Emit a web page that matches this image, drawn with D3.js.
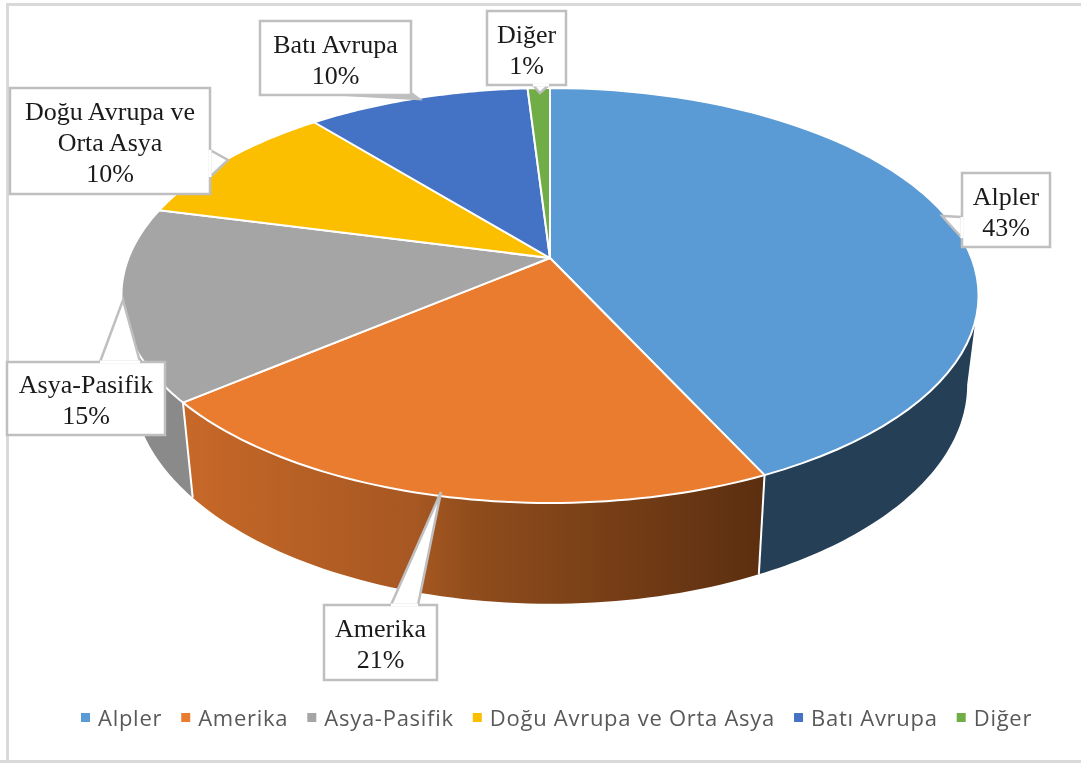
<!DOCTYPE html>
<html><head><meta charset="utf-8">
<script src="https://cdn.jsdelivr.net/npm/d3@7"></script>
<style>html,body{margin:0;padding:0;background:#fff}svg{display:block;filter:blur(0.4px)}</style>
</head><body><svg id="c" width="1081" height="763"></svg>
<script>
const categories = ["Alpler","Amerika","Asya-Pasifik","Doğu Avrupa ve Orta Asya","Batı Avrupa","Diğer"];
const values = [43,21,15,10,10,1];
const colors = ["#5b9bd5","#ea7c30","#a5a5a5","#fcbf00","#4472c4","#70ad47"];
const sideColors = ["#253f56",null,"#8a8a8a",null,null,null];
const labelLines = [["Alpler","43%"],["Amerika","21%"],["Asya-Pasifik","15%"],["Doğu Avrupa ve","Orta Asya","10%"],["Batı Avrupa","10%"],["Diğer","1%"]];
const boxes = [[962,173,88,74],[324,605,113,75],[7,362,158,73],[10,88,200,106],[260,21,151,74],[487,11,79,74]];
const wedges = [
 [[962,217],[942,216],[962,238]],
 [[391,605],[441,492],[418,605]],
 [[100,362],[123,300],[140,362]],
 [[210,150],[228,160],[210,177]],
 [[348,95],[419,99],[411,93]],
 [[533,85],[540,93],[549,85]]
];
const cutBase = [true,true,true,true,false,true];

const svg = d3.select("#c");
const cx=550, cy=258, k=0.1807;
const topRim = t=>{const u=Math.sin(t),v=Math.cos(t),d=1+k*v;return [cx+421.5*u/d, cy-200.7*v/d];};
const botRim = t=>{const u=Math.sin(t),v=Math.cos(t),d=1+k*v;return [cx+410.3*u/d, 345-212*v/d];};
const pie = d3.pie().sort(null).value(d=>d)(values);
const sample=(a,b,f)=>d3.range(0,61).map(i=>f(a+(b-a)*i/60));
const line=d3.line();

const defs=svg.append("defs");
const g=defs.append("linearGradient").attr("id","am").attr("gradientUnits","userSpaceOnUse")
  .attr("x1",190).attr("x2",760).attr("y1",0).attr("y2",0);
[[0,"#c66828"],[.4,"#a65722"],[.5,"#8f4c1c"],[1,"#5c2f10"]].forEach(s=>g.append("stop").attr("offset",s[0]).attr("stop-color",s[1]));

svg.append("path").attr("d","M7.5,763V4.5H1081").attr("fill","none").attr("stroke","#d9d9d9").attr("stroke-width",3);
svg.append("line").attr("x1",0).attr("x2",1081).attr("y1",761.5).attr("y2",761.5).attr("stroke","#d9d9d9").attr("stroke-width",3);

const walls=[[0,Math.PI*0.558,pie[0].endAngle],[2,pie[2].startAngle,Math.PI*1.442],[1,pie[1].startAngle,pie[1].endAngle]];
walls.forEach(([i,a,b])=>{
  const T=sample(a,b,topRim),B=sample(a,b,botRim).reverse();
  const fill=sideColors[i]||"url(#am)";
  svg.append("path").attr("d",line([...T,...B])+"Z").attr("fill",fill);
});
[pie[0].endAngle,pie[1].endAngle].forEach(a=>{
  svg.append("path").attr("d",line([topRim(a),botRim(a)])).attr("stroke","#fff").attr("stroke-width",2).attr("fill","none");
});
pie.forEach((p,i)=>{
  const pts=[[cx,cy],...sample(p.startAngle,p.endAngle,topRim)];
  svg.append("path").attr("d",line(pts)+"Z").attr("fill",colors[i]).attr("stroke","#fff").attr("stroke-width",2).attr("stroke-linejoin","round");
});
pie.forEach((p,i)=>{
  const [x,y,w,h]=boxes[i];
  const cg=svg.append("g");
  cg.append("path").attr("d",line(wedges[i])+"Z").attr("fill",cutBase[i]?"#fff":"#bfbfbf").attr("stroke","#bfbfbf").attr("stroke-width",2.5);
  cg.append("rect").attr("x",x).attr("y",y).attr("width",w).attr("height",h).attr("fill","#fff").attr("stroke","#bfbfbf").attr("stroke-width",2.5);
  if(cutBase[i]){
    const [a,,c]=wedges[i];
    cg.append("line").attr("x1",a[0]).attr("y1",a[1]).attr("x2",c[0]).attr("y2",c[1]).attr("stroke","#fff").attr("stroke-width",3);
  }
  const L=labelLines[i], lh=31, y0=y+h/2-(L.length-1)*lh/2+10;
  L.forEach((t,j)=>cg.append("text").attr("x",x+w/2).attr("y",y0+j*lh).attr("text-anchor","middle")
    .attr("font-family","Liberation Serif").attr("font-size",26).attr("fill","#1a1a1a").text(t));
});
const lg=svg.append("g");
let lx=81;
categories.forEach((c,i)=>{
  lg.append("rect").attr("x",lx).attr("y",713).attr("width",9).attr("height",9).attr("fill",colors[i]);
  const t=lg.append("text").attr("x",lx+17).attr("y",725.5).attr("font-family","Open Sans").attr("font-size",22).attr("letter-spacing",0.73).attr("fill","#595959").text(c);
  lx+=17+t.node().getComputedTextLength()+19;
});
</script></body></html>
